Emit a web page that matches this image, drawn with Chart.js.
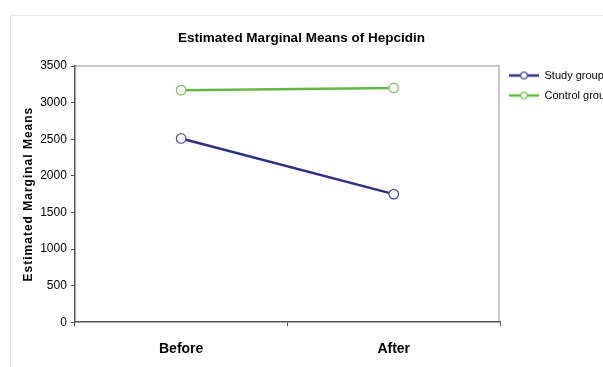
<!DOCTYPE html>
<html>
<head>
<meta charset="utf-8">
<script src="https://cdn.jsdelivr.net/npm/chart.js@4/dist/chart.umd.min.js"></script>
<style>
  html, body { margin: 0; padding: 0; background: #fff; overflow: hidden; width: 603px; height: 367px; }
  #frame { position: absolute; left: 10px; top: 15px; width: 640px; height: 400px;
           border-top: 1px solid #e6e6e6; border-left: 1px solid #e6e6e6; }
  #c { position: absolute; left: 0; top: 0; }
</style>
</head>
<body>
<div id="frame"></div>
<canvas id="c" width="603" height="367"></canvas>
<script>
// ---- data ----
const categories = ['Before', 'After'];
const studyGroup = [2510, 1750];
const controlGroup = [3170, 3200];
const seriesNames = ['Study group', 'Control group'];
const yMin = 0, yMax = 3500, yStep = 500;
const chartTitle = 'Estimated Marginal Means of Hepcidin';
const yAxisTitle = 'Estimated Marginal Means';

// ---- styles ----
const studyColor = '#2f2e86';
const studyMarker = '#4d4c9e';
const controlColor = '#62b843';
const controlMarker = '#74c456';
const BASE = '"Liberation Sans", Arial, sans-serif';

function makeIcon(line, marker) {
  const cv = document.createElement('canvas');
  cv.width = 30; cv.height = 10;
  const g = cv.getContext('2d');
  g.strokeStyle = line; g.lineWidth = 2.5;
  g.beginPath(); g.moveTo(0, 5); g.lineTo(30, 5); g.stroke();
  g.beginPath(); g.arc(15, 5, 3.3, 0, Math.PI * 2);
  g.fillStyle = '#fff'; g.fill();
  g.lineWidth = 1.2; g.strokeStyle = marker; g.stroke();
  return cv;
}
const legendIcons = [makeIcon(studyColor, studyMarker), makeIcon(controlColor, controlMarker)];

const plotBorder = {
  id: 'plotBorder',
  beforeDraw(chart) {
    const {ctx, chartArea: a} = chart;
    ctx.save();
    ctx.strokeStyle = '#c8c8c8';
    ctx.lineWidth = 2;
    ctx.beginPath();
    ctx.moveTo(a.left, a.top);
    ctx.lineTo(a.right - 1, a.top);
    ctx.lineTo(a.right - 1, a.bottom);
    ctx.stroke();
    ctx.restore();
  }
};
const legendShift = {
  id: 'legendShift',
  afterLayout(chart) {
    if (chart.legend) { chart.legend.top -= 5; chart.legend.bottom -= 5; }
    const s = chart.scales.y;
    if (s && !s._lsWrapped) {
      const orig = s.drawTitle.bind(s);
      s.drawTitle = function () {
        const ctx = this.ctx;
        const prev = ctx.letterSpacing;
        ctx.letterSpacing = '1px';
        orig();
        ctx.letterSpacing = prev || '0px';
      };
      s._lsWrapped = true;
    }
  }
};

new Chart(document.getElementById('c'), {
  type: 'line',
  data: {
    labels: categories,
    datasets: [
      {
        label: seriesNames[0], data: studyGroup,
        borderColor: studyColor, borderWidth: 2.5,
        pointBackgroundColor: '#fff', pointBorderColor: studyMarker,
        pointBorderWidth: 1.2, pointRadius: 4.8, pointStyle: 'circle', tension: 0
      },
      {
        label: seriesNames[1], data: controlGroup,
        borderColor: controlColor, borderWidth: 2.5,
        pointBackgroundColor: '#fff', pointBorderColor: controlMarker,
        pointBorderWidth: 1.2, pointRadius: 4.8, pointStyle: 'circle', tension: 0
      }
    ]
  },
  options: {
    responsive: false,
    animation: false,
    devicePixelRatio: 1,
    layout: { padding: { top: 0, left: 0, right: 0, bottom: -6 } },
    plugins: {
      title: {
        display: true, text: chartTitle, color: '#000',
        font: { family: BASE, size: 13.5, weight: 'bold' },
        padding: { top: 30, bottom: 19.8 }
      },
      legend: {
        display: true, position: 'right', align: 'start', fullSize: false,
        maxWidth: 103,
        labels: {
          usePointStyle: true, pointStyleWidth: 30, padding: 9, color: '#000',
          font: { family: BASE, size: 11 },
          generateLabels(chart) {
            const items = Chart.defaults.plugins.legend.labels.generateLabels(chart);
            items.forEach((it, i) => { it.pointStyle = legendIcons[i]; });
            return items;
          }
        }
      },
      tooltip: { enabled: false }
    },
    scales: {
      x: {
        type: 'category', offset: true,
        grid: { offset: true, drawOnChartArea: false, drawTicks: true, tickLength: 4, color: '#555', lineWidth: 1 },
        border: { color: '#555', width: 1.5 },
        ticks: { color: '#000', padding: 15, font: { family: BASE, size: 14, weight: 'bold' } }
      },
      y: {
        min: yMin, max: yMax,
        grid: { drawOnChartArea: false, drawTicks: true, tickLength: 4, color: '#555', lineWidth: 1 },
        border: { color: '#555', width: 1.5 },
        ticks: { stepSize: yStep, color: '#000', padding: 4, font: { family: BASE, size: 12 },
                 callback: (v) => String(v) },
        title: { display: true, text: yAxisTitle, color: '#000', padding: { top: 21, bottom: 0.8 },
                 font: { family: BASE, size: 12, weight: 'bold' } }
      }
    }
  },
  plugins: [plotBorder, legendShift]
});
</script>
</body>
</html>
